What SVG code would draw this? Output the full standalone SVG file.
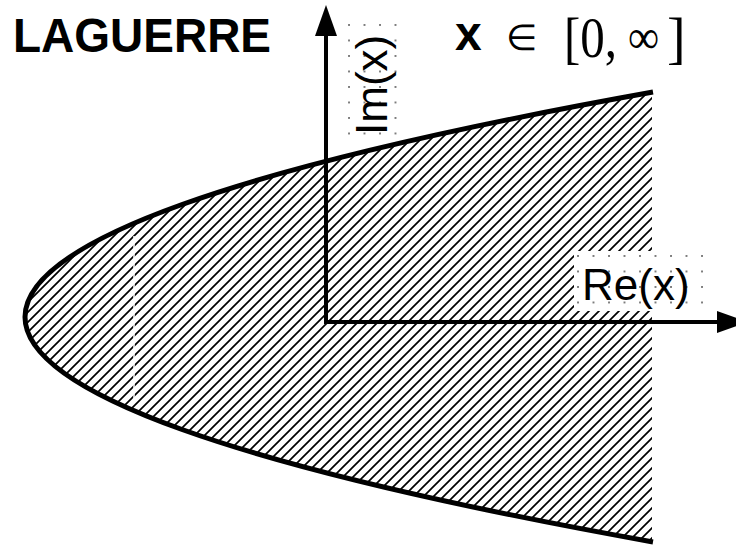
<svg xmlns="http://www.w3.org/2000/svg" width="736" height="546" viewBox="0 0 736 546">
<style>
.sans{font-family:"Liberation Sans",Arial,sans-serif;}
.serif{font-family:"Liberation Serif","Times New Roman",serif;}
.axis{stroke:#000;stroke-width:4;fill:none;}
</style>
<defs>
<pattern id="hatch" patternUnits="userSpaceOnUse" width="10" height="10">
<path d="M-1,11 L11,-1 M-5,5 L5,-5 M5,15 L15,5" stroke="#000" stroke-width="1.7"/>
</pattern>
<pattern id="dotsRe" patternUnits="userSpaceOnUse" x="577" y="255" width="15.5" height="15.5">
<circle cx="1" cy="1" r="0.9" fill="#444"/>
</pattern>
<pattern id="dotsIm" patternUnits="userSpaceOnUse" x="348" y="24" width="15.5" height="15.5">
<circle cx="1" cy="1" r="0.9" fill="#444"/>
</pattern>
<clipPath id="clipPar">
<path d="M652,92 Q-603,317 652,542 Z"/>
</clipPath>
</defs>
<rect width="736" height="546" fill="#fff"/>
<g id="region">
<rect x="0" y="80" width="652" height="470" fill="url(#hatch)" clip-path="url(#clipPar)"/>
<line x1="134" y1="236" x2="134" y2="402" stroke="#fff" stroke-width="1.5"/>
<rect x="574" y="251" width="130" height="60" fill="#fff"/>
<path d="M653,92 Q-603,317 653,542" fill="none" stroke="#000" stroke-width="5"/>
</g>
<g id="connectors">
<line class="axis" x1="326" y1="30" x2="326" y2="320"/>
<polygon points="326,5 315,36 337,36" fill="#000"/>
<line class="axis" x1="324" y1="322" x2="722" y2="322"/>
<polygon points="748,322 717,311 717,333" fill="#000"/>
</g>
<g id="title">
<text class="sans" x="13" y="52" font-size="48" font-weight="bold" textLength="258" lengthAdjust="spacingAndGlyphs">LAGUERRE</text>
</g>
<g id="domain">
<text class="sans" x="455" y="50" font-size="48" font-weight="bold">x</text>
<text class="serif" x="506" y="50" font-size="36">∈</text>
<text class="serif" x="564" y="57" font-size="56" textLength="53" lengthAdjust="spacingAndGlyphs">[0,</text>
<text class="serif" x="628" y="53" font-size="48" textLength="31" lengthAdjust="spacingAndGlyphs">∞</text>
<text class="serif" x="667" y="57" font-size="56">]</text>
</g>
<g id="im-label">
<rect x="348" y="24" width="49" height="111" fill="url(#dotsIm)"/>
<text class="sans" font-size="44" transform="translate(387,135) rotate(-90)">Im(x)</text>
</g>
<g id="re-label">
<rect x="577" y="255" width="127" height="49" fill="url(#dotsRe)"/>
<text class="sans" x="582" y="300" font-size="44">Re(x)</text>
</g>
</svg>
